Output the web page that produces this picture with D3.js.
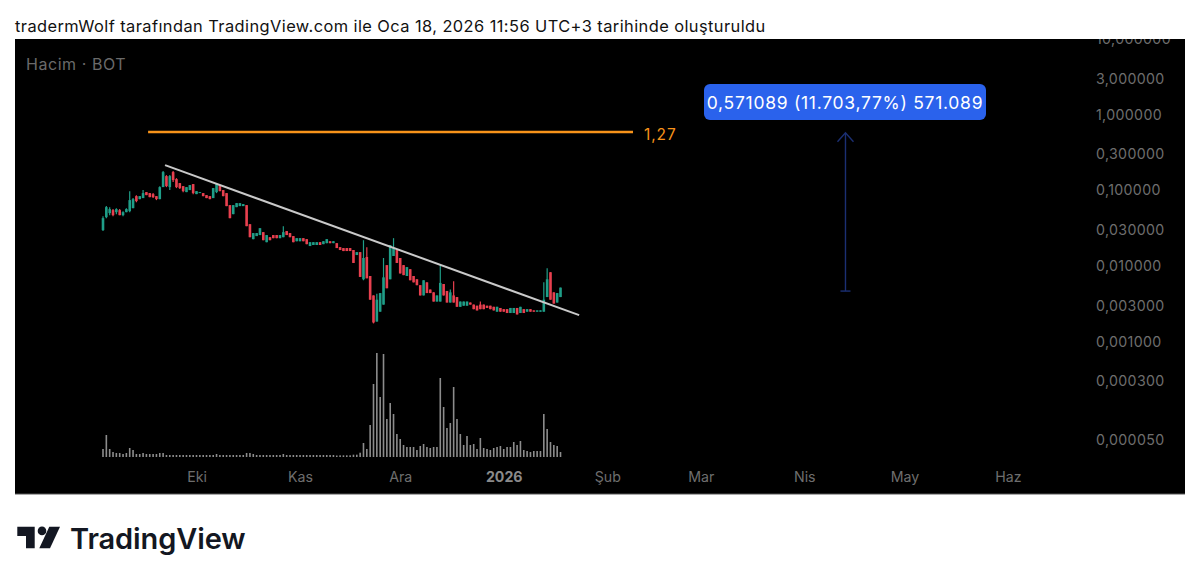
<!DOCTYPE html>
<html>
<head>
<meta charset="utf-8">
<script src="https://cdnjs.cloudflare.com/ajax/libs/d3/7.8.5/d3.min.js"></script>
<style>
html, body { margin: 0; padding: 0; background: #fff; }
svg { display: block; }
text { font-family: Inter, "Noto Sans", sans-serif; }
</style>
</head>
<body>
<script>
// daily candles, 3 Sep 2025 to 18 Jan 2026
var opens = [.0299,.0443,.0501,.0549,.0516,.0549,.0471,.0516,.0532,.0583,.0840,.0767,.0791,.0949,.0921,.0893,.0840,.0767,.1105,.1545,.1105,.1745,.1410,.1248,.1139,.0949,.1009,.1211,.0893,.0921,.0921,.0866,.0840,.0791,.0949,.1175,.1009,.0921,.0639,.0486,.0601,.0620,.0620,.0639,.0358,.0227,.0249,.0257,
  .0281,.0207,.0241,.0257,.0257,.0234,.0241,.0290,.0273,.0249,.0213,.0213,.0234,.0227,.0184,.0190,.0190,.0207,.0195,.0201,.0213,.0201,.0201,.0178,.0173,.0173,.0173,.0163,.0140,.0153,.0067,.0132,.0074,.0041,.00185,.0025,.0031,.0103,.0067,.0136,.0163,.0128,.0103,.0074,.0091,.0074,.0067,.0056,
  .0041,.0061,.0049,.0045,.0034,.0034,.0058,.0047,.0033,.0041,.0039,.0029,.0030,.0030,.0033,.0031,.0030,.0031,.0031,.0030,.0030,.0029,.0025,.0028,.0027,.0027,.0024,.0024,.0028,.0024,.0027,.0025,.0027,.0026,.0025,.0025,.0025,.0039,.0083,.0045,.0033,.0039];
var closes = [.0430,.0601,.0566,.0471,.0566,.0471,.0516,.0566,.0744,.0767,.0722,.0840,.0921,.0866,.0815,.0815,.0767,.1105,.1745,.1139,.1545,.1368,.1105,.1072,.0978,.1105,.1175,.0921,.0978,.0949,.0840,.0791,.0767,.1072,.1211,.0978,.0840,.0620,.0430,.0639,.0679,.0679,.0659,.0337,.0241,.0273,.0273,.0317,
  .0220,.0257,.0220,.0234,.0234,.0257,.0281,.0257,.0241,.0207,.0234,.0234,.0213,.0195,.0207,.0207,.0207,.0190,.0213,.0227,.0201,.0213,.0173,.0163,.0158,.0158,.0158,.0110,.0153,.0072,.0128,.0069,.0036,.0018,.0036,.0044,.0071,.0051,.0189,.0173,.0110,.0080,.0076,.0097,.0065,.0061,.0056,.0041,
  .0065,.0044,.0044,.0034,.0041,.0060,.0041,.0033,.0045,.0033,.0029,.0034,.0034,.0034,.0031,.0027,.0026,.0027,.0027,.0028,.0027,.0026,.0029,.0025,.0025,.0024,.0028,.0028,.0023,.0029,.0024,.0027,.0025,.0025,.0026,.0026,.0036,.0067,.0036,.0032,.0044,.0052];
var highs = [.0457,.0620,.0601,.0566,.0583,.0566,.0532,.0583,.0978,.0791,.0866,.0840,.1009,.0949,.0921,.0921,.0840,.1139,.1799,.1592,.1592,.1799,.1453,.1248,.1139,.1105,.1175,.1211,.0978,.0949,.0921,.0866,.0840,.1072,.1248,.1175,.1009,.0921,.0639,.0639,.0679,.0679,.0659,.0639,.0358,.0273,.0273,.0317,
  .0281,.0257,.0241,.0257,.0257,.0257,.0337,.0290,.0273,.0249,.0234,.0234,.0234,.0227,.0207,.0207,.0207,.0207,.0213,.0227,.0213,.0213,.0201,.0178,.0173,.0173,.0173,.0163,.0153,.0153,.0220,.0178,.0074,.0041,.0043,.0044,.0128,.0103,.0189,.0234,.0163,.0128,.0103,.0097,.0091,.0074,.0067,.0056,
  .0065,.0061,.0049,.0045,.0041,.0106,.0058,.0047,.0049,.0063,.0039,.0034,.0034,.0034,.0033,.0031,.0030,.0034,.0031,.0030,.0030,.0029,.0029,.0028,.0027,.0027,.0028,.0028,.0028,.0029,.0027,.0027,.0027,.0026,.0026,.0026,.0061,.0094,.0083,.0045,.0044,.0052];
var lows = [.0290,.0430,.0471,.0457,.0486,.0471,.0457,.0516,.0516,.0583,.0700,.0767,.0791,.0866,.0815,.0791,.0744,.0767,.1105,.1105,.1009,.1287,.1072,.1040,.0949,.0949,.1009,.0893,.0893,.0921,.0840,.0791,.0767,.0791,.0921,.0978,.0840,.0620,.0430,.0486,.0601,.0620,.0620,.0337,.0241,.0227,.0249,.0257,
  .0220,.0207,.0220,.0234,.0234,.0234,.0241,.0257,.0241,.0207,.0213,.0213,.0213,.0195,.0184,.0190,.0190,.0190,.0195,.0201,.0201,.0201,.0173,.0163,.0158,.0158,.0158,.0110,.0140,.0072,.0065,.0069,.0036,.00175,.00185,.0025,.0031,.0051,.0067,.0136,.0110,.0080,.0076,.0074,.0065,.0061,.0056,.0041,
  .0041,.0044,.0044,.0034,.0034,.0034,.0041,.0033,.0033,.0033,.0029,.0029,.0030,.0030,.0031,.0027,.0026,.0027,.0027,.0028,.0027,.0026,.0025,.0025,.0025,.0024,.0024,.0024,.0023,.0024,.0024,.0025,.0025,.0025,.0025,.0025,.0025,.0039,.0036,.0032,.0033,.0039];
// volume has no scale in the picture, these are relative
var volumes = [8,22,8,5,4,4,3,4,9,7,3,3,4,3,3,3,3,4,4,2,2,2,2,2,2,2,2,2,2,2,2,2,2,2,3,2,2,2,2,2,2,2,2,4,4,3,2,2,2,2,2,2,2,2,3,2,2,2,2,2,2,2,2,2,2,2,2,2,2,2,
  1.5,1.7,1.7,1.7,1.7,2.3,2.3,4.3,14,8,32,73,104,60,103,38,54,43,23,18,12,10,10,10,7,11,13,10,9,10,10,79,50,29,34,70,38,23,12,21,12,13,8,19,9,8,7,9,10,11,8,10,10,15,12,16,7,6,5,6,6,6,43,28,15,12,11,5];

var yTicks = [10,3,1,.3,.1,.03,.01,.003,.001,.0003,.00005];
var monthDates = ["2025-10-01","2025-11-01","2025-12-01","2026-01-01","2026-02-01","2026-03-01","2026-04-01","2026-05-01","2026-06-01"];
var monthLabels = ["Eki","Kas","Ara","2026","Şub","Mar","Nis","May","Haz"];

var trendDates = ["2025-09-21T14:00Z","2026-01-23T14:00Z"];
var trendPrices = [.2158,.00225];
var levelDates = ["2025-09-16T12:00Z","2026-02-08T17:00Z"];
var levelPrice = 0.59;
var levelLabel = "1,27";
var arrowDate = "2026-04-13";
var arrowPrices = [.00468,.576];
var measureText = "0,571089 (11.703,77%) 571.089";
var titleText = "tradermWolf tarafından TradingView.com ile Oca 18, 2026 11:56 UTC+3 tarihinde oluşturuldu";

var width = 1200, height = 582;
var panel = {left: 15, top: 39, right: 1185, bottom: 494};

var svg = d3.select("body").append("svg").attr("width", width).attr("height", height);

svg.append("text").attr("x", 15).attr("y", 31.5).attr("font-size", 16.4).attr("letter-spacing", 0.43)
  .attr("fill", "#111").text(titleText);

svg.append("rect").attr("x", panel.left).attr("y", panel.top)
  .attr("width", panel.right - panel.left).attr("height", panel.bottom - panel.top).attr("fill", "#000");
svg.append("rect").attr("x", panel.left).attr("y", panel.bottom - 0.5)
  .attr("width", panel.right - panel.left).attr("height", 1).attr("fill", "#555");

svg.append("clipPath").attr("id", "panelClip").append("rect").attr("x", panel.left).attr("y", panel.top)
  .attr("width", panel.right - panel.left).attr("height", panel.bottom - panel.top);

var chart = svg.append("g").attr("clip-path", "url(#panelClip)");

var startDay = new Date("2025-09-03T00:00Z");
var x = d3.scaleUtc().domain([startDay, new Date("2026-06-01T00:00Z")]).range([103, 1008]);
var y = d3.scaleLog().domain([10, .00005]).range([39, 440.3]);
var yVol = d3.scaleLinear().domain([0, 104]).range([457, 353]);

var days = opens.map(function (d, i) { return d3.utcDay.offset(startDay, i); });
var idx = d3.range(opens.length);

// axes
var yAxis = d3.axisRight(y).tickValues(yTicks).tickSize(0)
  .tickFormat(function (d) { return d.toFixed(6).replace(".", ","); });
var yg = chart.append("g").attr("transform", "translate(1096,0)").call(yAxis);
yg.select(".domain").remove();
yg.selectAll("text").attr("x", 0).attr("text-anchor", "start").attr("font-size", 14.2)
  .attr("letter-spacing", 0.35).attr("font-family", "Inter").attr("fill", "#6e6e6e");

var monthTimes = monthDates.map(function (d) { return new Date(d + "T00:00Z"); });
var xAxis = d3.axisBottom(x).tickValues(monthTimes).tickSize(0)
  .tickFormat(function (d, i) { return monthLabels[i]; });
var xg = chart.append("g").attr("transform", "translate(0,471.5)").call(xAxis);
xg.select(".domain").remove();
xg.selectAll("text").attr("y", 0).attr("dy", "0.71em").attr("font-size", 14.2)
  .attr("font-family", "Inter")
  .attr("font-weight", function (d, i) { return monthLabels[i] == "2026" ? 700 : 400; })
  .attr("fill", function (d, i) { return monthLabels[i] == "2026" ? "#8a8a8a" : "#6e6e6e"; });

chart.append("text").attr("x", 26).attr("y", 70).attr("font-size", 16).attr("letter-spacing", 0.55)
  .attr("fill", "#6a6a6a").text("Hacim · BOT");

// volume
chart.selectAll("rect.vol").data(idx).enter().append("rect").attr("class", "vol")
  .attr("x", function (i) { return x(days[i]) - 0.8; })
  .attr("y", function (i) { return yVol(volumes[i]); })
  .attr("width", 1.6)
  .attr("height", function (i) { return yVol(0) - yVol(volumes[i]); })
  .attr("fill", "#8c8c8c");

// candles
function candleColor(i) { return closes[i] >= opens[i] ? "#1f9e88" : "#e8404f"; }

chart.selectAll("line.wick").data(idx).enter().append("line").attr("class", "wick")
  .attr("x1", function (i) { return x(days[i]); })
  .attr("x2", function (i) { return x(days[i]); })
  .attr("y1", function (i) { return y(highs[i]); })
  .attr("y2", function (i) { return y(lows[i]); })
  .attr("stroke", candleColor).attr("stroke-width", 1.2);

chart.selectAll("rect.body").data(idx).enter().append("rect").attr("class", "body")
  .attr("x", function (i) { return x(days[i]) - 1.3; })
  .attr("y", function (i) { return y(Math.max(opens[i], closes[i])); })
  .attr("width", 2.6)
  .attr("height", function (i) { return Math.abs(y(opens[i]) - y(closes[i])); })
  .attr("fill", candleColor);

// trend line
var line = d3.line().x(function (d) { return x(new Date(d[0])); }).y(function (d) { return y(d[1]); });
chart.append("path").attr("d", line(d3.zip(trendDates, trendPrices)))
  .attr("fill", "none").attr("stroke", "#c9c9c9").attr("stroke-width", 2);

// orange level
chart.append("path").attr("d", line(levelDates.map(function (d) { return [d, levelPrice]; })))
  .attr("fill", "none").attr("stroke", "#f7931a").attr("stroke-width", 2.6);
chart.append("text").attr("x", x(new Date(levelDates[1])) + 11).attr("y", y(levelPrice) + 8)
  .attr("font-size", 15.5).attr("letter-spacing", 0.9).attr("fill", "#f7931a").text(levelLabel);

// measure arrow
var ax = x(new Date(arrowDate + "T08:00Z"));
var arrowColor = "#1b2f73";
chart.append("path").attr("d", line(arrowPrices.map(function (p) { return [arrowDate + "T08:00Z", p]; })))
  .attr("fill", "none").attr("stroke", arrowColor).attr("stroke-width", 1.4);
chart.append("path")
  .attr("d", d3.line()([[ax - 8, y(arrowPrices[1]) + 9], [ax, y(arrowPrices[1])], [ax + 8, y(arrowPrices[1]) + 9]]))
  .attr("fill", "none").attr("stroke", arrowColor).attr("stroke-width", 1.4);
chart.append("path")
  .attr("d", d3.line()([[ax - 5, y(arrowPrices[0])], [ax + 5, y(arrowPrices[0])]]))
  .attr("fill", "none").attr("stroke", arrowColor).attr("stroke-width", 1.4);

chart.append("rect").attr("x", 704).attr("y", 84).attr("width", 282).attr("height", 36).attr("rx", 6)
  .attr("fill", "#2a62ec");
chart.append("text").attr("x", 845).attr("y", 108.5).attr("text-anchor", "middle").attr("font-size", 17.5)
  .attr("letter-spacing", 0.72).attr("fill", "#fff").text(measureText);

// TradingView logo
var logo = svg.append("g").attr("fill", "#131722");
logo.append("path").attr("d", "M17.3 526.7H34.7V548.3H26V536H17.3Z");
logo.append("circle").attr("cx", 42).attr("cy", 530.9).attr("r", 4.3);
logo.append("path").attr("d", "M49.3 526.7H60L50 548.3H39.3Z");
svg.append("text").attr("x", 70).attr("y", 548.5).attr("font-size", 29).attr("font-weight", 600)
  .attr("letter-spacing", -0.1).attr("fill", "#131722").text("TradingView");
</script>
</body>
</html>
